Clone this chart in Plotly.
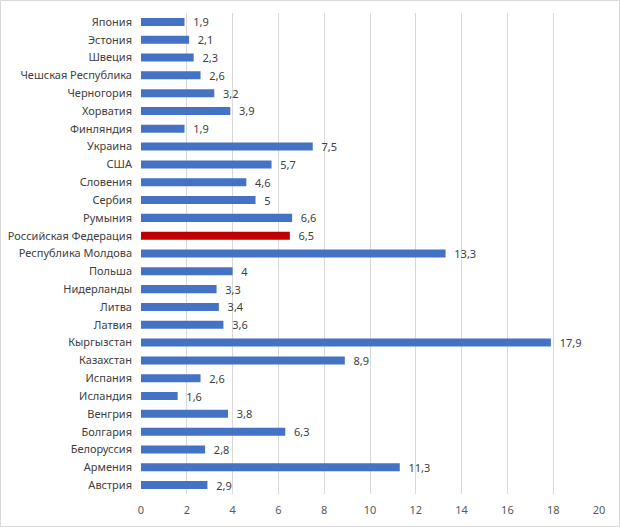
import plotly.graph_objects as go

countries = ["Япония", "Эстония", "Швеция", "Чешская Республика", "Черногория", "Хорватия",
             "Финляндия", "Украина", "США", "Словения", "Сербия", "Румыния",
             "Российская Федерация", "Республика Молдова", "Польша", "Нидерланды", "Литва",
             "Латвия", "Кыргызстан", "Казахстан", "Испания", "Исландия", "Венгрия",
             "Болгария", "Белоруссия", "Армения", "Австрия"]
values = [1.9, 2.1, 2.3, 2.6, 3.2, 3.9, 1.9, 7.5, 5.7, 4.6, 5, 6.6, 6.5, 13.3, 4, 3.3,
          3.4, 3.6, 17.9, 8.9, 2.6, 1.6, 3.8, 6.3, 2.8, 11.3, 2.9]
highlight = "Российская Федерация"
x_ticks = [0, 2, 4, 6, 8, 10, 12, 14, 16, 18, 20]

colors = ["#C00000" if c == highlight else "#4472C4" for c in countries]
labels = [str(v).replace(".", ",") for v in values]

W, H = 620, 527
L, R, T, B = 141, 21, 13, 33
pw, ph = W - L - R, H - T - B

fig = go.Figure(go.Bar(
    x=values, y=countries, orientation="h",
    marker=dict(color=colors, line=dict(width=0)),
    text=labels, texttemplate="\u00a0\u00a0%{text}",
    textposition="outside", cliponaxis=False, constraintext="none",
    textfont=dict(size=11, color="#404040", family="Noto Sans"),
    hoverinfo="skip",
))

fig.update_layout(
    width=W, height=H,
    margin=dict(l=L, r=R, t=T, b=B, pad=8, autoexpand=False),
    paper_bgcolor="white", plot_bgcolor="white",
    bargap=0.55, showlegend=False,
    font=dict(family="Noto Sans", size=11, color="#595959"),
    xaxis=dict(range=[0, 20], tickvals=x_ticks, ticktext=[str(t) for t in x_ticks],
               showgrid=True, gridcolor="#D9D9D9", gridwidth=1, zeroline=False,
               showline=False, ticks="", automargin=False,
               tickfont=dict(size=11, color="#595959")),
    yaxis=dict(categoryorder="array", categoryarray=countries, autorange="reversed",
               showgrid=False, showline=False, ticks="", automargin=False,
               tickfont=dict(size=11, color="#404040")),
    shapes=[dict(type="rect", xref="paper", yref="paper",
                 x0=(0.5 - L) / pw, x1=(W - 0.5 - L) / pw,
                 y0=-(B - 0.5) / ph, y1=1 + (T - 0.5) / ph,
                 line=dict(color="#D9D9D9", width=1), fillcolor="rgba(0,0,0,0)")],
)

fig.write_html("out.html", config={"displayModeBar": False},
               post_script="document.body.style.margin='0';document.body.style.overflow='hidden';")
